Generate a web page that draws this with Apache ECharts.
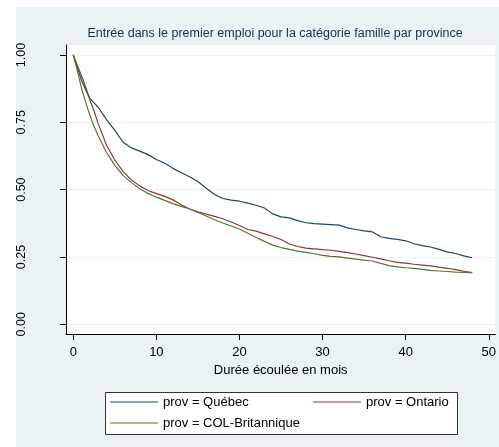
<!DOCTYPE html>
<html>
<head>
<meta charset="utf-8">
<script src="https://cdn.jsdelivr.net/npm/echarts@6/dist/echarts.min.js"></script>
<style>
  html, body { margin: 0; padding: 0; background: #fff; }
  #main { width: 499px; height: 447px; }
</style>
</head>
<body>
<div id="main"></div>
<script>
// survie (Kaplan-Meier)
var months = [0, 0.5, 1, 1.5, 2, 2.5, 3, 4, 5, 6, 7, 8, 9, 10, 11, 12, 13, 14, 15, 16, 17, 18, 19, 20,
  21, 22, 23, 24, 25, 26, 27, 28, 29, 30, 31, 32, 33, 34, 35, 36, 37, 38, 39, 40, 41, 42, 43, 44, 45, 46, 47, 48];
var quebec = [1.0, 0.952, 0.905, 0.870, 0.839, 0.822, 0.806, 0.760, 0.720, 0.676, 0.655, 0.643, 0.630, 0.612,
  0.598, 0.579, 0.563, 0.548, 0.530, 0.505, 0.482, 0.467, 0.461, 0.457, 0.450, 0.442, 0.432, 0.410, 0.399,
  0.395, 0.385, 0.377, 0.374, 0.372, 0.370, 0.368, 0.358, 0.352, 0.347, 0.343, 0.325, 0.319, 0.315, 0.310,
  0.299, 0.292, 0.287, 0.278, 0.269, 0.263, 0.254, 0.247];
var ontario = [1.0, 0.960, 0.922, 0.880, 0.833, 0.792, 0.745, 0.665, 0.610, 0.567, 0.536, 0.514, 0.497, 0.485,
  0.475, 0.462, 0.444, 0.428, 0.418, 0.409, 0.401, 0.392, 0.380, 0.367, 0.352, 0.346, 0.336, 0.326, 0.315,
  0.298, 0.289, 0.283, 0.280, 0.277, 0.275, 0.271, 0.266, 0.261, 0.255, 0.249, 0.243, 0.236, 0.230, 0.227,
  0.223, 0.220, 0.217, 0.212, 0.208, 0.203, 0.197, 0.192];
var colBrit = [1.0, 0.940, 0.876, 0.823, 0.776, 0.735, 0.700, 0.638, 0.590, 0.553, 0.526, 0.503, 0.486, 0.472,
  0.460, 0.448, 0.438, 0.428, 0.415, 0.402, 0.388, 0.376, 0.365, 0.354, 0.338, 0.322, 0.308, 0.294, 0.285,
  0.278, 0.272, 0.267, 0.262, 0.256, 0.252, 0.250, 0.246, 0.242, 0.238, 0.235, 0.226, 0.218, 0.213, 0.210,
  0.208, 0.204, 0.200, 0.198, 0.196, 0.194, 0.193, 0.192];

var xTicks = [0, 10, 20, 30, 40, 50];
var yTicks = [0, 0.25, 0.5, 0.75, 1];
var names = ['prov = Québec', 'prov = Ontario', 'prov = COL-Britannique'];
var colors = ['#1a476f', '#90353b', '#55752f'];

function pairs(vals) {
  return months.map(function (m, i) { return [m, vals[i]]; });
}

var chart = echarts.init(document.getElementById('main'));
var font = 'Liberation Sans, Arial, sans-serif';

// trait fin centré dans une case de 48x14
var lineIcon = 'path://M0,0H0.01V0.01H0ZM0,6.4H48V7.6H0ZM47.99,13.99H48V14H47.99Z';

function legendAt(name, left, top) {
  return {
    data: [name], left: left, top: top, icon: lineIcon, itemWidth: 48, itemHeight: 14,
    padding: 0, selectedMode: false,
    textStyle: { fontSize: 13, color: '#000', fontFamily: font }
  };
}

var option = {
  animation: false,
  textStyle: { fontFamily: font },
  graphic: [
    { type: 'rect', z: -10, shape: { x: 16, y: 7, width: 483, height: 440 }, style: { fill: '#eaf2f3' } },
    { type: 'rect', z: 1, shape: { x: 105.5, y: 392.5, width: 352, height: 42 },
      style: { fill: '#fff', stroke: '#333', lineWidth: 1 } }
  ],
  title: {
    text: 'Entrée dans le premier emploi pour la catégorie famille par province',
    left: 275, top: 27, textAlign: 'center', padding: 0,
    textStyle: { fontSize: 12.5, fontWeight: 'normal', color: '#1c2b4a', fontFamily: font }
  },
  legend: [
    legendAt(names[0], 110, 395),
    legendAt(names[1], 313, 395),
    legendAt(names[2], 110, 416)
  ],
  grid: {
    left: 66, right: 2, top: 45, bottom: 113,
    show: true, backgroundColor: '#fff', borderWidth: 0
  },
  xAxis: {
    type: 'value', min: -0.875, max: 50.8,
    name: 'Durée écoulée en mois', nameLocation: 'middle', nameGap: 28,
    nameTextStyle: { fontSize: 13, color: '#000' },
    axisLine: { show: true, onZero: false, lineStyle: { color: '#000', width: 1 } },
    axisTick: { show: true, inside: false, length: 6, customValues: xTicks, lineStyle: { color: '#000' } },
    axisLabel: { customValues: xTicks, fontSize: 13, color: '#000', margin: 12 },
    splitLine: { show: false }
  },
  yAxis: {
    type: 'value', min: -0.036, max: 1.037,
    axisLine: { show: true, onZero: false, lineStyle: { color: '#000', width: 1 } },
    axisTick: { show: true, inside: false, length: 6, customValues: yTicks, lineStyle: { color: '#000' } },
    axisLabel: {
      customValues: yTicks, fontSize: 12.5, color: '#000', rotate: 90, margin: 38,
      formatter: function (v) { return v.toFixed(2); }
    },
    splitLine: { show: true, lineStyle: { color: '#eaf2f3', width: 1 } }
  },
  series: [
    { name: names[0], type: 'line', data: pairs(quebec), showSymbol: false, symbol: 'none',
      lineStyle: { color: colors[0], width: 1.2 }, itemStyle: { color: colors[0] } },
    { name: names[1], type: 'line', data: pairs(ontario), showSymbol: false, symbol: 'none',
      lineStyle: { color: colors[1], width: 1.2 }, itemStyle: { color: colors[1] } },
    { name: names[2], type: 'line', data: pairs(colBrit), showSymbol: false, symbol: 'none',
      lineStyle: { color: colors[2], width: 1.2 }, itemStyle: { color: colors[2] } }
  ]
};

chart.setOption(option);
</script>
</body>
</html>
